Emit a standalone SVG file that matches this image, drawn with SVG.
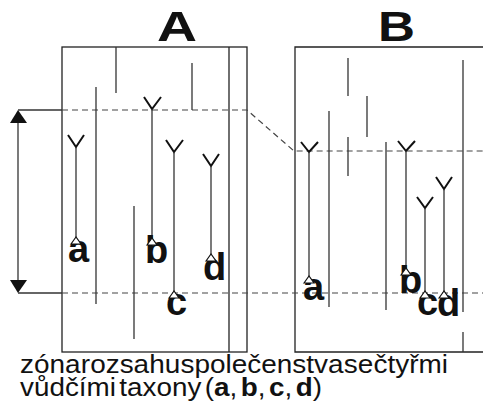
<svg xmlns="http://www.w3.org/2000/svg" width="483" height="406" viewBox="0 0 483 406">
<defs>
<style>
.box{fill:none;stroke:#222;stroke-width:1.3}
.ln{stroke:#333;stroke-width:1.3;fill:none}
.dash{stroke:#444;stroke-width:1.2;stroke-dasharray:6,4;fill:none}
.y{fill:none;stroke:#111;stroke-width:2}
.cap{fill:#fff;stroke:#111;stroke-width:1.2}
.lbl{font-family:"Liberation Sans",Arial,sans-serif;font-weight:bold;font-size:38px;fill:#111}
.ttl{font-family:"Liberation Sans",Arial,sans-serif;font-weight:bold;font-size:43px;fill:#111}
.txt{font-family:"Liberation Sans",Arial,sans-serif;font-size:26px;fill:#111}
.arr{fill:#111}
</style>
</defs>
<rect width="483" height="406" fill="#fff"/>
<g id="title-A"><text class="ttl" x="157" y="41" textLength="40" lengthAdjust="spacingAndGlyphs">A</text></g>
<g id="title-B"><text class="ttl" x="378" y="41" textLength="37" lengthAdjust="spacingAndGlyphs">B</text></g>
<g id="box-A">
<rect class="box" x="62" y="47" width="185" height="305"/>
<line class="box" x1="229" y1="47" x2="229" y2="352"/>
</g>
<g id="box-B">
<polyline class="box" points="483,47 295,47 295,352 483,352"/>
</g>
<g id="connectors">
<line class="ln" x1="18" y1="120" x2="18" y2="283"/>
<polygon class="arr" points="18,110 10,123 27,123"/>
<polygon class="arr" points="18,293 10,280 27,280"/>
<line class="ln" x1="18" y1="110" x2="62" y2="110"/>
<line class="ln" x1="18" y1="293" x2="62" y2="293"/>
<polyline class="dash" points="62,110 247,110 294,151 483,151"/>
<line class="dash" x1="62" y1="293" x2="483" y2="293"/>
<line class="ln" x1="116" y1="47" x2="116" y2="93"/>
<line class="ln" x1="96" y1="87" x2="96" y2="304"/>
<line class="ln" x1="192" y1="63" x2="192" y2="110"/>
<line class="ln" x1="134" y1="206" x2="134" y2="339"/>
<line class="ln" x1="329" y1="111" x2="329" y2="307"/>
<line class="ln" x1="348" y1="58" x2="348" y2="96"/>
<line class="ln" x1="348" y1="137" x2="348" y2="176"/>
<line class="ln" x1="367" y1="96" x2="367" y2="137"/>
<line class="ln" x1="386" y1="142" x2="386" y2="310"/>
<line class="ln" x1="463" y1="60" x2="463" y2="312"/>
<line class="ln" x1="463" y1="332" x2="463" y2="352"/>
</g>
<g id="taxon-A-a">
<polyline class="y" points="68,135 76,147 84,135"/>
<line class="ln" x1="76" y1="147" x2="76" y2="238"/>
<text class="lbl" x="68" y="262">a</text>
<polygon class="cap" points="71,244 76,237 81,244"/>
</g>
<g id="taxon-A-b">
<polyline class="y" points="144,97 152,109 161,97"/>
<line class="ln" x1="152" y1="109" x2="152" y2="239"/>
<text class="lbl" x="145" y="263">b</text>
<polygon class="cap" points="147,245 152,238 157,245"/>
</g>
<g id="taxon-A-c">
<polyline class="y" points="166,140 174,152 183,140"/>
<line class="ln" x1="174" y1="152" x2="174" y2="292"/>
<text class="lbl" x="166" y="315">c</text>
<polygon class="cap" points="169,298 174,291 179,298"/>
</g>
<g id="taxon-A-d">
<polyline class="y" points="203,154 211,166 219,154"/>
<line class="ln" x1="211" y1="166" x2="211" y2="255"/>
<text class="lbl" x="203" y="280">d</text>
<polygon class="cap" points="206,261 211,254 216,261"/>
</g>
<g id="taxon-B-a">
<polyline class="y" points="301,142 309,152 318,142"/>
<line class="ln" x1="309" y1="152" x2="309" y2="277"/>
<text class="lbl" x="303" y="300">a</text>
<polygon class="cap" points="304,283 309,276 314,283"/>
</g>
<g id="taxon-B-b">
<polyline class="y" points="398,141 406,151 415,141"/>
<line class="ln" x1="406" y1="151" x2="406" y2="269"/>
<text class="lbl" x="399" y="293">b</text>
<polygon class="cap" points="401,275 406,268 411,275"/>
</g>
<g id="taxon-B-c">
<polyline class="y" points="417,197 425,208 433,197"/>
<line class="ln" x1="425" y1="208" x2="425" y2="292"/>
<text class="lbl" x="417" y="315">c</text>
<polygon class="cap" points="420,298 425,291 430,298"/>
</g>
<g id="taxon-B-d">
<polyline class="y" points="436,177 444,189 452,177"/>
<line class="ln" x1="444" y1="189" x2="444" y2="292"/>
<text class="lbl" x="437" y="316">d</text>
<polygon class="cap" points="439,298 444,291 449,298"/>
</g>
<g id="caption">
<text class="txt" x="20" y="373" textLength="428" lengthAdjust="spacingAndGlyphs" word-spacing="-7">zóna rozsahu společenstva se čtyřmi</text>
<text class="txt" x="20" y="396" textLength="302" lengthAdjust="spacingAndGlyphs" word-spacing="-4">vůdčími taxony (<tspan font-weight="bold">a</tspan>, <tspan font-weight="bold">b</tspan>, <tspan font-weight="bold">c</tspan>, <tspan font-weight="bold">d</tspan>)</text>
</g>
</svg>
